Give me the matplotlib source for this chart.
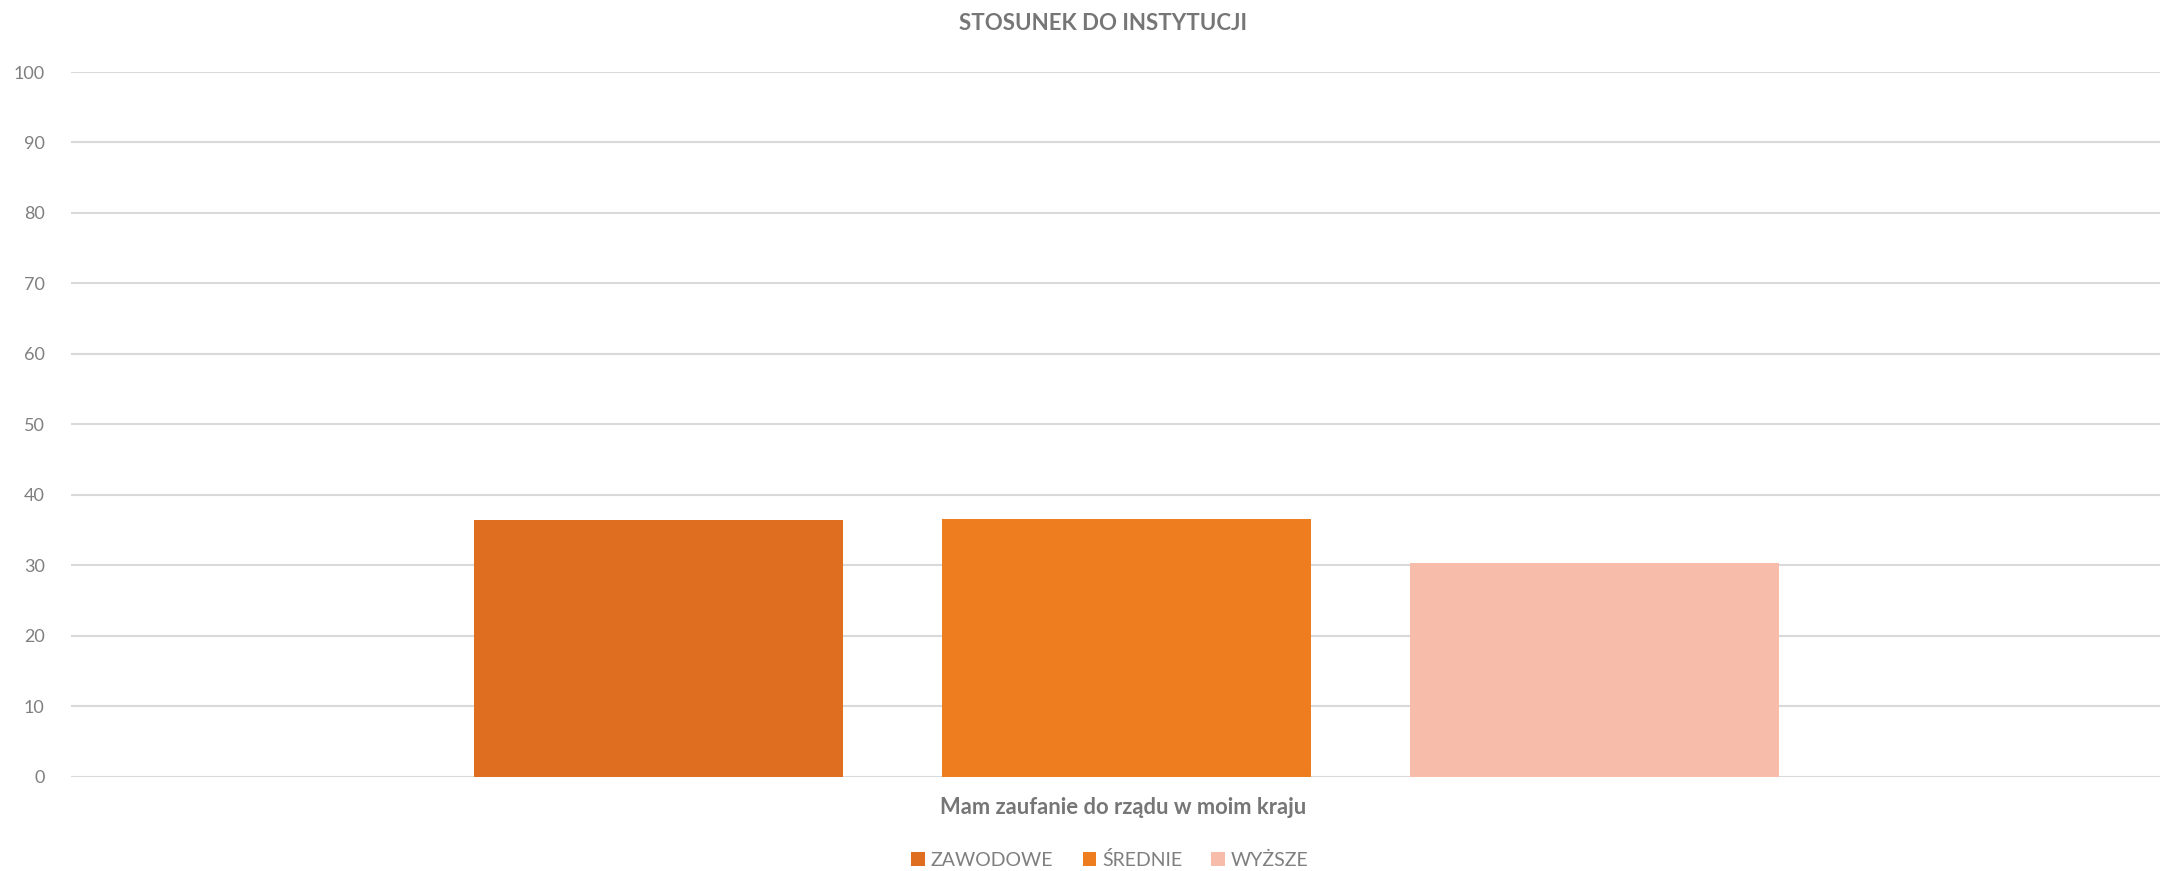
import matplotlib
matplotlib.use("Agg")
import matplotlib.pyplot as plt
from matplotlib.patches import Patch

title = "STOSUNEK DO INSTYTUCJI"
category = "Mam zaufanie do rządu w moim kraju"
series = ["ZAWODOWE", "ŚREDNIE", "WYŻSZE"]
values = [36.4, 36.6, 30.3]
colors = ["#DF6E20", "#EE7D1F", "#F7BCAA"]
yticks = [0, 10, 20, 30, 40, 50, 60, 70, 80, 90, 100]

W, H = 2160, 871
fig = plt.figure(figsize=(W / 100, H / 100), dpi=100)
plt.rcParams['font.family'] = ['Lato', 'DejaVu Sans']

left, right = 71, 2160
top, bottom = 72, 776.7
ax = fig.add_axes([left / W, 1 - bottom / H, (right - left) / W, (bottom - top) / H])

pos = [-1, 0, 1]
ax.bar(pos, values, width=0.788, color=colors, zorder=3)
ax.set_xlim(-2.255, 2.208)
ax.set_ylim(0, 100)
ax.set_yticks(yticks)
ax.set_yticklabels([str(t) for t in yticks], fontsize=13, color="#7F7F7F")
ax.tick_params(axis='y', length=0, pad=19)
ax.set_xticks([])
ax.grid(axis='y', color="#D9D9D9", linewidth=1.5, zorder=0)
for s in ax.spines.values():
    s.set_visible(False)

fig.text(1103 / W, 1 - 23 / H, title, ha='center', va='center', fontsize=16,
         fontweight='bold', color="#767676")
fig.text(1123 / W, 1 - 807 / H, category, ha='center', va='center', fontsize=15.8,
         fontweight='bold', color="#767676")

handles = [Patch(facecolor=c, edgecolor='none') for c in colors]
leg = fig.legend(handles, series, loc='center', bbox_to_anchor=(1110 / W, 1 - 860 / H),
                 ncol=3, frameon=False, fontsize=14, handlelength=0.7, handleheight=0.7,
                 handletextpad=0.3, columnspacing=1.5, labelcolor="#7F7F7F")

fig.savefig("out.png", dpi=100, facecolor="white")
